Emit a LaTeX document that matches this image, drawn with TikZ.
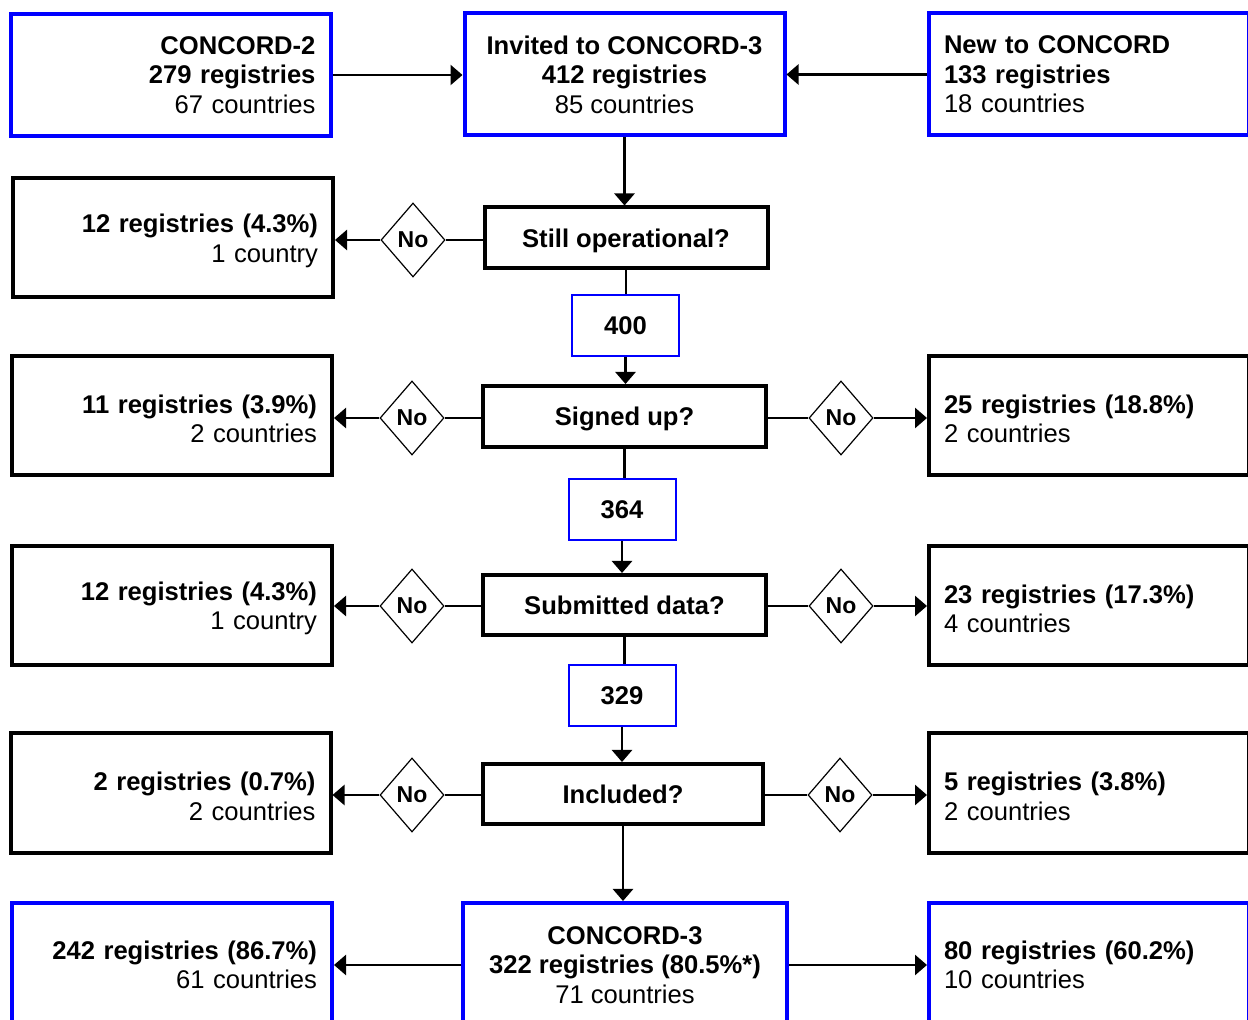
\documentclass[tikz,border=0pt]{standalone}
\usepackage{fontspec}
\setmainfont{Liberation Sans}
\usepackage{tikz}
\usetikzlibrary{arrows.meta, shapes.geometric}
\definecolor{cblue}{HTML}{0000FF}
\newcommand{\txtsize}{\fontsize{12.8}{14.75}\selectfont}

\begin{document}
\begin{tikzpicture}[x=0.5pt, y=-0.5pt,
  box/.style={rectangle, line width=2pt, inner xsep=7.5pt, inner ysep=0pt, font=\txtsize},
  sourcebox/.style={box, draw=cblue},
  exitbox/.style={box, draw=black, execute at begin node={\rule{0pt}{12.4pt}}},
  leftbox/.style={text width=145pt, align=right},
  rightbox/.style={text width=145pt, align=left},
  question/.style={box, draw=black, text depth=0pt, font=\txtsize\bfseries, minimum width=141.5pt, minimum height=30.5pt},
  countbox/.style={rectangle, draw=cblue, line width=1pt, font=\txtsize\bfseries, minimum width=53.5pt, minimum height=30.5pt},
  nobox/.style={diamond, draw, line width=0.6pt, font=\fontsize{11.5}{13}\selectfont\bfseries, inner sep=0pt, minimum width=32pt, minimum height=37pt},
  flow/.style={line width=1.3pt, -{Triangle[length=6pt, width=10pt]}},
  link/.style={line width=1.3pt}
]

  %% page frame
  \useasboundingbox (0,0) rectangle (1248,1020);
  \fill[white] (0,0) rectangle (1248,1020);
  \clip (0,0) rectangle (1248,1020);

  %% Sources
  \node[sourcebox, leftbox, minimum height=61pt] (c2) at (170.5,75)
    {\textbf{CONCORD-2}\\\textbf{279 registries}\\67 countries};
  \node[sourcebox, minimum width=160pt, minimum height=61pt, align=center] (inv) at (624.5,74.5)
    {\textbf{Invited to CONCORD-3}\\\textbf{412 registries}\\85 countries};
  \node[sourcebox, rightbox, minimum height=61pt] (new) at (1089,74.5)
    {\textbf{New to CONCORD}\\\textbf{133 registries}\\18 countries};

  %% Still operational
  \node[question] (op) at (626,238) {Still operational?};
  \node[nobox] (op-nl) at (413,240) {No};
  \node[exitbox, leftbox, minimum height=59.5pt] (op-xl) at (173,238)
    {\textbf{12 registries (4.3\%)}\\1 country};
  \node[countbox] (n400) at (625.5,325.5) {400};

  %% Signed up
  \node[question] (sign) at (624.5,416.5) {Signed up?};
  \node[nobox] (sign-nl) at (412,418) {No};
  \node[nobox] (sign-nr) at (841,418) {No};
  \node[exitbox, leftbox, minimum height=59.5pt] (sign-xl) at (172,415.5)
    {\textbf{11 registries (3.9\%)}\\2 countries};
  \node[exitbox, rightbox, minimum height=59.5pt] (sign-xr) at (1089,415.5)
    {\textbf{25 registries (18.8\%)}\\2 countries};
  \node[countbox] (n364) at (622,510) {364};

  %% Submitted data
  \node[question, minimum height=30pt] (sub) at (624.5,605) {Submitted data?};
  \node[nobox] (sub-nl) at (412,606) {No};
  \node[nobox] (sub-nr) at (841,606) {No};
  \node[exitbox, leftbox, minimum height=59.5pt] (sub-xl) at (172,605.5)
    {\textbf{12 registries (4.3\%)}\\1 country};
  \node[exitbox, rightbox, minimum height=59.5pt] (sub-xr) at (1089,605.5)
    {\textbf{23 registries (17.3\%)}\\4 countries};
  \node[countbox] (n329) at (622,696) {329};

  %% Included
  \node[question, minimum width=140pt, minimum height=30pt] (inc) at (623,794) {Included?};
  \node[nobox] (inc-nl) at (412,795) {No};
  \node[nobox] (inc-nr) at (840,795) {No};
  \node[exitbox, leftbox, minimum height=60pt] (inc-xl) at (170.5,793)
    {\textbf{2 registries (0.7\%)}\\2 countries};
  \node[exitbox, rightbox, minimum height=60pt] (inc-xr) at (1089,793)
    {\textbf{5 registries (3.8\%)}\\2 countries};

  %% CONCORD-3
  \node[sourcebox, minimum width=162pt, minimum height=62pt, align=center] (fin) at (625,965)
    {\textbf{CONCORD-3}\\\textbf{322 registries (80.5\%*)}\\71 countries};
  \node[sourcebox, leftbox, minimum height=62pt] (fin-l) at (172,965)
    {\textbf{242 registries (86.7\%)}\\61 countries};
  \node[sourcebox, rightbox, minimum height=62pt] (fin-r) at (1089,965)
    {\textbf{80 registries (60.2\%)}\\10 countries};

  %% Connectors
  \draw[flow] (c2.east) -- (inv.west |- c2.east);
  \draw[flow] (new.west) -- (inv.east |- new.west);
  \draw[flow] (inv.south) -- (inv.south |- op.north);
  \draw[link] (op.west |- op-nl.east) -- (op-nl.east);
  \draw[flow] (op-nl.west) -- (op-xl.east |- op-nl.west);
  \draw[link] (op.south) -- (op.south |- n400.north);
  \draw[flow] (n400.south) -- (n400.south |- sign.north);
  \draw[link] (sign.south) -- (sign.south |- n364.north);
  \draw[flow] (n364.south) -- (n364.south |- sub.north);
  \draw[link] (sub.south) -- (sub.south |- n329.north);
  \draw[flow] (n329.south) -- (n329.south |- inc.north);
  \foreach \q in {sign, sub, inc}{
    \draw[link] (\q.west |- \q-nl.east) -- (\q-nl.east);
    \draw[flow] (\q-nl.west) -- (\q-xl.east |- \q-nl.west);
    \draw[link] (\q.east |- \q-nr.west) -- (\q-nr.west);
    \draw[flow] (\q-nr.east) -- (\q-xr.west |- \q-nr.east);
  }
  \draw[flow] (inc.south) -- (inc.south |- fin.north);
  \draw[flow] (fin.west) -- (fin-l.east |- fin.west);
  \draw[flow] (fin.east) -- (fin-r.west |- fin.east);

\end{tikzpicture}
\end{document}
